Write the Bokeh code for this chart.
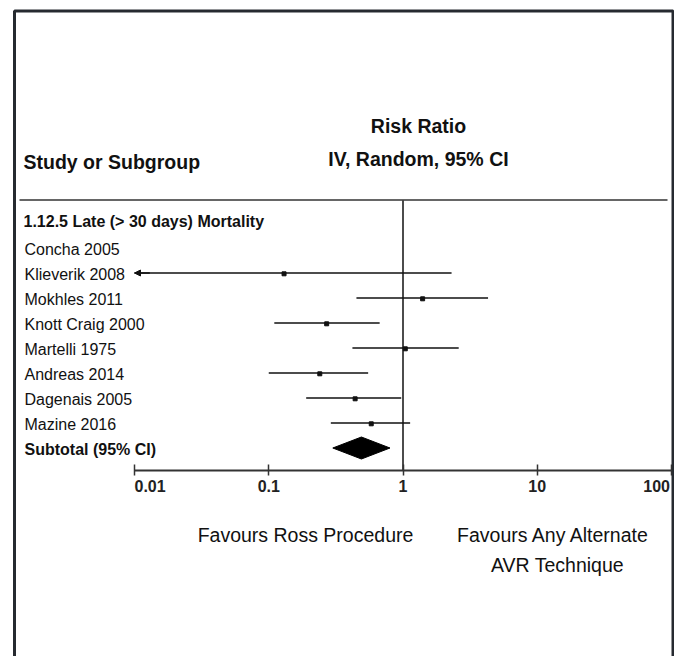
import numpy as np
from bokeh.plotting import figure
from bokeh.models import Range1d, FixedTicker, Arrow, NormalHead
from bokeh.core.properties import value
from bokeh.embed import file_html
from bokeh.resources import INLINE

# ---------------- data ----------------
group_label = "1.12.5 Late (> 30 days) Mortality"
studies = ["Concha 2005", "Klieverik 2008", "Mokhles 2011", "Knott Craig 2000",
           "Martelli 1975", "Andreas 2014", "Dagenais 2005", "Mazine 2016"]
rr = [np.nan, 0.13, 1.40, 0.27, 1.04, 0.24, 0.44, 0.58]
ci_low = [np.nan, 0.007, 0.45, 0.11, 0.42, 0.10, 0.19, 0.29]
ci_high = [np.nan, 2.30, 4.30, 0.67, 2.60, 0.55, 0.97, 1.13]
subtotal_label = "Subtotal (95% CI)"
subtotal_rr = 0.49
subtotal_low = 0.30
subtotal_high = 0.80
tick_values = [0.01, 0.1, 1, 10, 100]
tick_labels = ["0.01", "0.1", "1", "10", "100"]
left_note = "Favours Ross Procedure"
right_note = ["Favours Any Alternate", "AVR Technique"]

# ---------------- layout ----------------
W, H = 674, 656
X001_PX = 134.0                     # x pixel of 0.01
DEC_PX = (671.0 - 134.0) / 4        # pixels per decade
TDY = -7.3                          # text baseline correction


def px2x(px):
    return 10 ** (-2 + (px - X001_PX) / DEC_PX)


x_range = Range1d(px2x(0), px2x(W))
y_range = Range1d(H, 0)   # data y == pixel y (downwards)

p = figure(width=W, height=H, x_axis_type="log", x_range=x_range, y_range=y_range,
           output_backend="svg", toolbar_location=None, min_border=0,
           y_axis_location=None)
p.outline_line_color = None
p.grid.visible = False
p.background_fill_color = "white"
p.border_fill_color = "white"

FONT = value("Liberation Sans")
INK = "#111111"

# outer frame (left, top, right)
bx = [px2x(14), px2x(14), px2x(672.5), px2x(672.5)]
by = [H, 10.5, 10.5, H]
p.line(bx, by, line_color="#262a30", line_width=3)

# header separator
p.line([px2x(19), px2x(667)], [199.5, 199.5], line_color="#333333", line_width=1.6)

# header texts
p.text(x=[px2x(23)], y=[168.5 + TDY], text=["Study or Subgroup"], text_font=FONT,
       text_font_size="19.5px", text_font_style="bold", text_color=INK,
       text_align="left", text_baseline="alphabetic")
p.text(x=[px2x(418), px2x(418)], y=[132.5 + TDY, 165.5 + TDY],
       text=["Risk Ratio", "IV, Random, 95% CI"], text_font=FONT,
       text_font_size="19.5px", text_font_style="bold", text_color=INK,
       text_align="center", text_baseline="alphabetic")

# rows
ROW0 = 247.5
ROW_STEP = 25.0
BASE_OFF = 8.3
n = len(studies)
row_y = [ROW0 + i * ROW_STEP for i in range(n)]
sub_y = ROW0 + n * ROW_STEP
head_y = 220.0

p.text(x=[px2x(23)], y=[head_y + BASE_OFF + TDY], text=[group_label], text_font=FONT,
       text_font_size="16px", text_font_style="bold", text_color=INK,
       text_align="left", text_baseline="alphabetic")
p.text(x=[px2x(24)] * n, y=[y + BASE_OFF + TDY for y in row_y], text=studies,
       text_font=FONT, text_font_size="16px", text_color=INK,
       text_align="left", text_baseline="alphabetic")
p.text(x=[px2x(24)], y=[sub_y + BASE_OFF + TDY], text=[subtotal_label], text_font=FONT,
       text_font_size="16px", text_font_style="bold", text_color=INK,
       text_align="left", text_baseline="alphabetic")

# line of no effect
AXIS_Y = 470
p.line([1, 1], [200, AXIS_Y], line_color="#111111", line_width=1.5)

# confidence intervals
axis_min = tick_values[0]
rr_a = np.array(rr, dtype=float)
lo_a = np.array(ci_low, dtype=float)
hi_a = np.array(ci_high, dtype=float)
ry = np.array(row_y)
ok = ~np.isnan(rr_a)
lo_clip = np.maximum(lo_a[ok], axis_min)
p.segment(x0=lo_clip, y0=ry[ok], x1=hi_a[ok], y1=ry[ok],
          line_color="#111111", line_width=1.6)
p.scatter(x=rr_a[ok], y=ry[ok] + 0.8, marker="square", size=4,
          fill_color="#111111", line_color="#111111")
for lo, yy in zip(lo_a[ok], ry[ok]):
    if lo < axis_min:
        p.add_layout(Arrow(end=NormalHead(size=6, fill_color="#111111",
                                          line_color="#111111", line_width=1),
                           x_start=axis_min * 1.3, y_start=yy, x_end=axis_min,
                           y_end=yy, line_width=1.6, line_color="#111111"))

# subtotal diamond
HALF_H = 11
p.patch(x=[subtotal_low, subtotal_rr, subtotal_high, subtotal_rr],
        y=[sub_y, sub_y - HALF_H, sub_y, sub_y + HALF_H],
        fill_color="black", line_color="black", line_width=1)

# x axis (line + ticks through Bokeh's log axis)
ax = p.xaxis[0]
ax.fixed_location = AXIS_Y
ax.bounds = (tick_values[0], tick_values[-1])
ax.ticker = FixedTicker(ticks=tick_values, minor_ticks=[])
ax.major_label_overrides = {t: "" for t in tick_values}
ax.axis_line_color = "#333333"
ax.axis_line_width = 2
ax.major_tick_line_color = "#333333"
ax.major_tick_line_width = 1.5
ax.major_tick_in = 6
ax.major_tick_out = 5
ax.minor_tick_line_color = None

# tick labels (RevMan style: outer labels aligned inside the axis)
aligns = ["left"] + ["center"] * (len(tick_values) - 2) + ["right"]
shift = {"left": 0.0, "center": 0.0, "right": -1.5}
for t, lab, al in zip(tick_values, tick_labels, aligns):
    p.text(x=[t], y=[492.5 + TDY], text=[lab], text_font=FONT, text_font_size="16px",
           text_font_style="bold", text_color="#222222", text_align=al,
           text_baseline="alphabetic", x_offset=shift[al])

# bottom notes
p.text(x=[px2x(305)], y=[541.5 + TDY], text=[left_note], text_font=FONT,
       text_font_size="19.5px", text_color=INK, text_align="center",
       text_baseline="alphabetic")
p.text(x=[px2x(553), px2x(557)], y=[541.5 + TDY, 572 + TDY], text=right_note,
       text_font=FONT, text_font_size="19.5px", text_color=INK, text_align="center",
       text_baseline="alphabetic")

open("out.html", "w").write(file_html(p, INLINE))
